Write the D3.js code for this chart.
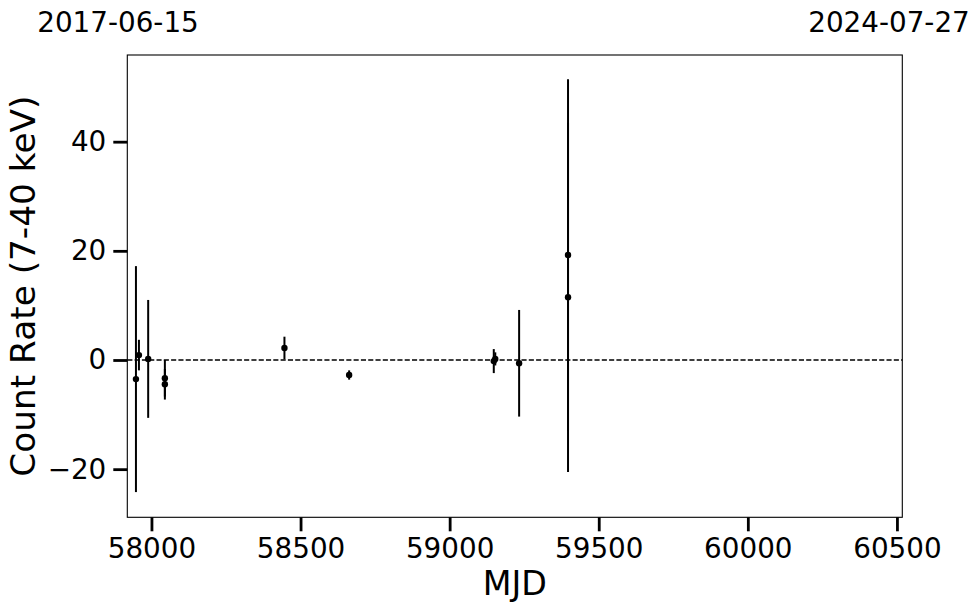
<!DOCTYPE html>
<html>
<head>
<meta charset="utf-8">
<script src="https://cdn.jsdelivr.net/npm/d3@7"></script>
<style>
  html, body { margin: 0; padding: 0; background: #fff; }
  svg { display: block; }
  text { font-family: "DejaVu Sans", sans-serif; fill: #000; }
</style>
</head>
<body>
<svg id="chart" width="980" height="613"></svg>
<script>
// ---- data ----
const mjd   = [57948, 57958, 57989, 58045, 58045, 58446, 58663, 59148, 59153, 59233, 59397, 59397];
const rate  = [-3.5, 0.9, 0.2, -3.35, -4.45, 2.2, -2.75, -0.2, 0.2, -0.6, 19.24, 11.49];
const err   = [20.7, 2.8, 10.8, 3.35, 2.8, 2.07, 0.85, 2.2, 1.2, 9.77, 32.2, 32.0];
const xTicks = [58000, 58500, 59000, 59500, 60000, 60500];
const yTicks = [-20, 0, 20, 40];
const xDomain = [57919, 60518];
const yDomain = [-28.82, 55.88];
const dateLabels = ["2017-06-15", "2024-07-27"];
const xLabel = "MJD";
const yLabel = "Count Rate (7-40 keV)";

// ---- layout ----
const L = 127.3, R = 902.3, T = 55, B = 517.3;
const svg = d3.select("#chart");
const x = d3.scaleLinear().domain(xDomain).range([L, R]);
const y = d3.scaleLinear().domain(yDomain).range([B, T]);
const tickFont = 27.8, labelFont = 33.3;

// zero line
svg.append("line")
  .attr("x1", L).attr("x2", R)
  .attr("y1", y(0)).attr("y2", y(0))
  .attr("stroke", "#000").attr("stroke-width", 1.4)
  .attr("stroke-dasharray", "5.1,2.2");

// error bars
const pts = mjd.map((m, i) => ({m, r: rate[i], e: err[i]}));
svg.append("g").selectAll("line").data(pts).join("line")
  .attr("x1", d => x(d.m)).attr("x2", d => x(d.m))
  .attr("y1", d => y(d.r - d.e)).attr("y2", d => y(d.r + d.e))
  .attr("stroke", "#000").attr("stroke-width", 2);
svg.append("g").selectAll("circle").data(pts).join("circle")
  .attr("cx", d => x(d.m)).attr("cy", d => y(d.r)).attr("r", 3.2)
  .attr("fill", "#000");

// frame
svg.append("rect").attr("x", L).attr("y", T).attr("width", R - L).attr("height", B - T)
  .attr("fill", "none").attr("stroke", "#000").attr("stroke-width", 1.1);

// x axis
const xAxis = d3.axisBottom(x).tickValues(xTicks).tickFormat(d3.format("d"))
  .tickSize(14).tickPadding(7);
const gx = svg.append("g").attr("transform", `translate(0,${B})`).call(xAxis);
gx.select(".domain").remove();
gx.selectAll(".tick line").attr("stroke", "#000").attr("stroke-width", 2.8);
gx.selectAll(".tick text").attr("font-size", tickFont).attr("font-family", "DejaVu Sans").attr("fill", "#000");

// y axis
const yAxis = d3.axisLeft(y).tickValues(yTicks).tickFormat(d3.format("d"))
  .tickSize(14).tickPadding(7);
const gy = svg.append("g").attr("transform", `translate(${L},0)`).call(yAxis);
gy.select(".domain").remove();
gy.selectAll(".tick line").attr("stroke", "#000").attr("stroke-width", 2.8);
gy.selectAll(".tick text").attr("font-size", tickFont).attr("font-family", "DejaVu Sans").attr("fill", "#000");

// axis labels
svg.append("text").attr("x", (L + R) / 2).attr("y", 595)
  .attr("text-anchor", "middle").attr("font-size", labelFont).text(xLabel);
svg.append("text").attr("transform", `translate(35,${(T + B) / 2}) rotate(-90)`)
  .attr("text-anchor", "middle").attr("font-size", 34.3).text(yLabel);

// date labels on top
svg.append("text").attr("x", 118).attr("y", 32).attr("text-anchor", "middle")
  .attr("font-size", tickFont).text(dateLabels[0]);
svg.append("text").attr("x", 889).attr("y", 32).attr("text-anchor", "middle")
  .attr("font-size", tickFont).text(dateLabels[1]);
</script>
</body>
</html>
